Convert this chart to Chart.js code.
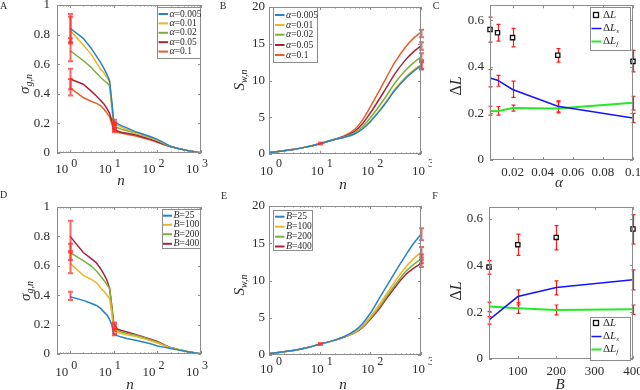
<!DOCTYPE html>
<html>
<head>
<meta charset="utf-8">
<script src="https://cdn.jsdelivr.net/npm/chart.js@4.4.1/dist/chart.umd.min.js"></script>
<style>
  html, body { margin: 0; padding: 0; background: #fff; }
  #fig { position: relative; width: 640px; height: 390px; overflow: hidden; }
  #fig canvas { position: absolute; }
</style>
</head>
<body>
<div id="fig"></div>
<script>
// ---- data ----
const nSigma = [1, 2, 3, 4, 5, 6, 7, 8, 9, 10, 12, 15, 20, 30, 50, 70, 100, 150, 200, 300, 500, 700, 1000];
const nSw = [1, 2, 3, 5, 10, 20, 30, 50, 70, 100, 150, 200, 300, 500, 700, 1000];
const logTickExps = [0, 1, 2, 3];

// panel A: sigma_{g,n}, one line per alpha
const alphaLabels = ["0.005", "0.01", "0.02", "0.05", "0.1"];
const sigmaA005 = [0.843, 0.775, 0.71, 0.655, 0.61, 0.57, 0.53, 0.49, 0.35, 0.21, 0.2, 0.185, 0.17, 0.146, 0.125, 0.11, 0.092, 0.065, 0.045, 0.03, 0.016, 0.008, 0];
const sigmaA01 = [0.83, 0.73, 0.67, 0.61, 0.565, 0.54, 0.51, 0.48, 0.34, 0.2, 0.19, 0.175, 0.16, 0.139, 0.12, 0.105, 0.088, 0.062, 0.045, 0.03, 0.016, 0.008, 0];
const sigmaA02 = [0.69, 0.625, 0.58, 0.54, 0.51, 0.49, 0.475, 0.455, 0.32, 0.18, 0.172, 0.16, 0.15, 0.135, 0.117, 0.103, 0.087, 0.06, 0.044, 0.03, 0.016, 0.008, 0];
const sigmaA05 = [0.5, 0.465, 0.42, 0.385, 0.355, 0.33, 0.3, 0.27, 0.22, 0.16, 0.148, 0.14, 0.133, 0.124, 0.105, 0.092, 0.075, 0.055, 0.043, 0.03, 0.016, 0.008, 0];
const sigmaA1 = [0.44, 0.375, 0.35, 0.335, 0.32, 0.295, 0.27, 0.245, 0.2, 0.15, 0.14, 0.133, 0.126, 0.117, 0.1, 0.088, 0.072, 0.053, 0.042, 0.03, 0.016, 0.008, 0];
const errAx = [1, 1, 1, 1, 1, 10, 10, 10, 10, 10];
const errAlo = [0.75, 0.74, 0.62, 0.43, 0.388, 0.195, 0.19, 0.17, 0.15, 0.14];
const errAhi = [0.94, 0.92, 0.775, 0.57, 0.5, 0.225, 0.21, 0.19, 0.17, 0.16];

// panel B: S_{w,n}, one line per alpha
const swA005 = [0.2, 0.45, 0.6, 0.9, 1.4, 2.0, 2.25, 2.75, 3.4, 4.4, 5.8, 6.9, 8.6, 10.3, 11.2, 12.0];
const swA01 = [0.2, 0.45, 0.6, 0.9, 1.4, 2.0, 2.26, 2.78, 3.45, 4.48, 5.91, 7.03, 8.75, 10.47, 11.38, 12.18];
const swA02 = [0.2, 0.45, 0.6, 0.9, 1.4, 2.0, 2.3, 2.92, 3.71, 4.92, 6.53, 7.76, 9.59, 11.42, 12.37, 13.2];
const swA05 = [0.2, 0.45, 0.6, 0.9, 1.4, 2.0, 2.36, 3.13, 4.11, 5.58, 7.45, 8.85, 10.84, 12.84, 13.86, 14.7];
const swA1 = [0.2, 0.45, 0.6, 0.9, 1.4, 2.0, 2.45, 3.4, 4.6, 6.4, 8.6, 10.2, 12.4, 14.6, 15.7, 16.6];
const errBx = [10, 1000, 1000, 1000, 1000, 1000];
const errBlo = [1.3, 11.5, 11.6, 12.8, 14.2, 15.9];
const errBhi = [1.55, 12.5, 12.6, 13.7, 15.2, 16.9];

// panel C: Delta L against alpha
const alphaVals = [0.005, 0.01, 0.02, 0.05, 0.1];
const dL = [0.561, 0.547, 0.526, 0.45, 0.424];
const dLlo = [0.507, 0.511, 0.486, 0.421, 0.379];
const dLhi = [0.614, 0.583, 0.566, 0.479, 0.471];
const dLs = [0.353, 0.343, 0.303, 0.231, 0.181];
const dLslo = [0.314, 0.317, 0.269, 0.203, 0.161];
const dLshi = [0.389, 0.364, 0.339, 0.254, 0.2];
const dLf = [0.211, 0.21, 0.223, 0.221, 0.246];
const dLflo = [0.193, 0.193, 0.21, 0.207, 0.214];
const dLfhi = [0.231, 0.23, 0.236, 0.25, 0.274];

// panel D: sigma_{g,n}, one line per batch size B
const batchLabels = ["25", "100", "200", "400"];
const sigmaB25 = [0.39, 0.365, 0.345, 0.33, 0.31, 0.285, 0.265, 0.235, 0.2, 0.135, 0.125, 0.115, 0.105, 0.095, 0.08, 0.07, 0.055, 0.045, 0.038, 0.028, 0.016, 0.008, 0];
const sigmaB100 = [0.617, 0.535, 0.51, 0.485, 0.45, 0.425, 0.4, 0.38, 0.28, 0.165, 0.15, 0.14, 0.13, 0.12, 0.103, 0.09, 0.075, 0.055, 0.042, 0.03, 0.016, 0.008, 0];
const sigmaB200 = [0.69, 0.635, 0.6, 0.565, 0.53, 0.5, 0.47, 0.45, 0.32, 0.18, 0.16, 0.15, 0.14, 0.13, 0.11, 0.095, 0.08, 0.058, 0.043, 0.03, 0.016, 0.008, 0];
const sigmaB400 = [0.8, 0.69, 0.65, 0.62, 0.58, 0.54, 0.5, 0.45, 0.33, 0.21, 0.17, 0.16, 0.15, 0.135, 0.115, 0.1, 0.085, 0.06, 0.045, 0.03, 0.016, 0.008, 0];
const errDx = [1, 1, 1, 1, 10, 10, 10, 10];
const errDlo = [0.367, 0.549, 0.64, 0.7, 0.128, 0.155, 0.17, 0.2];
const errDhi = [0.424, 0.69, 0.75, 0.907, 0.14, 0.17, 0.185, 0.215];

// panel E: S_{w,n}, one line per batch size B
const swB25 = [0.2, 0.45, 0.6, 0.9, 1.45, 2.0, 2.45, 3.3, 4.2, 5.6, 7.6, 9.0, 11.0, 13.4, 14.9, 16.2];
const swB100 = [0.2, 0.45, 0.6, 0.9, 1.45, 2.0, 2.42, 3.12, 3.89, 5.11, 6.74, 8.02, 9.77, 11.8, 12.87, 13.8];
const swB200 = [0.2, 0.45, 0.6, 0.9, 1.45, 2.0, 2.4, 3.05, 3.78, 4.92, 6.42, 7.65, 9.31, 11.2, 12.11, 12.9];
const swB400 = [0.2, 0.45, 0.6, 0.9, 1.45, 2.0, 2.38, 3.0, 3.7, 4.8, 6.2, 7.4, 9.0, 10.8, 11.6, 12.3];
const errEx = [10, 1000, 1000, 1000, 1000];
const errElo = [1.35, 15.4, 13.1, 12.3, 11.8];
const errEhi = [1.6, 17.0, 14.5, 13.5, 12.8];

// panel F: Delta L against B
const batchVals = [25, 100, 200, 400];
const dLB = [0.393, 0.489, 0.52, 0.556];
const dLBlo = [0.363, 0.443, 0.467, 0.491];
const dLBhi = [0.421, 0.534, 0.57, 0.617];
const dLsB = [0.167, 0.267, 0.306, 0.339];
const dLsBlo = [0.149, 0.231, 0.274, 0.296];
const dLsBhi = [0.181, 0.296, 0.334, 0.381];
const dLfB = [0.224, 0.217, 0.21, 0.213];
const dLfBlo = [0.203, 0.195, 0.189, 0.191];
const dLfBhi = [0.243, 0.24, 0.231, 0.231];

// ---- styling ----
const FONT = '"Liberation Serif", "Times New Roman", serif';
const TEXT = "#2b2b2b";
const FRAME = "#8c8c8c";
const mBlue = "#2383cb", mYellow = "#eeb425", mGreen = "#7cb03a", mDred = "#a5243e", mOrange = "#e0622a";
const alphaColors = [mBlue, mYellow, mGreen, mDred, mOrange];
const batchColors = [mBlue, mYellow, mGreen, mDred];
const softRed = { color: "rgba(255, 40, 40, 0.72)", width: 2, cap: 2.5 };
const hardRed = { color: "#ff1a1a", width: 1.2, cap: 2 };

function fmt(v) {
  return String(Math.round(v * 1000) / 1000);
}

function lineSet(xs, ys, color, width, smooth) {
  return {
    data: xs.map((x, i) => ({ x, y: ys[i] })),
    borderColor: color,
    backgroundColor: color,
    borderWidth: width,
    pointRadius: 0,
    tension: 0,
    cubicInterpolationMode: smooth ? "monotone" : "default",
    fill: false
  };
}

function squareSet(xs, ys) {
  return {
    data: xs.map((x, i) => ({ x, y: ys[i] })),
    showLine: false,
    clip: false,
    pointStyle: "rect",
    pointRadius: 3,
    borderColor: "#111",
    backgroundColor: "#fff",
    borderWidth: 1.3
  };
}

function bars(xs, lo, hi) {
  return { xs, lo, hi };
}

// rich text: parts = [text, size, italic, dy]
function richWidth(ctx, parts) {
  let w = 0;
  parts.forEach(([t, size, italic]) => {
    ctx.font = (italic ? "italic " : "") + size + "px " + FONT;
    w += ctx.measureText(t).width;
  });
  return w;
}

function drawRich(ctx, parts, x, y, opts = {}) {
  ctx.save();
  ctx.translate(x, y);
  if (opts.rotate) ctx.rotate(-Math.PI / 2);
  ctx.fillStyle = TEXT;
  ctx.textBaseline = "middle";
  ctx.textAlign = "left";
  const w = richWidth(ctx, parts);
  let cx = opts.align === "left" ? 0 : -w / 2;
  parts.forEach(([t, size, italic, dy]) => {
    ctx.font = (italic ? "italic " : "") + size + "px " + FONT;
    ctx.fillText(t, cx, dy || 0);
    cx += ctx.measureText(t).width;
  });
  ctx.restore();
}

function drawBars(ctx, chart, b, style) {
  const xs = chart.scales.x, ys = chart.scales.y;
  ctx.save();
  ctx.strokeStyle = style.color;
  ctx.lineWidth = style.width;
  b.xs.forEach((xv, i) => {
    const px = Math.round(xs.getPixelForValue(xv)) + 0.5;
    const y0 = ys.getPixelForValue(b.lo[i]);
    const y1 = ys.getPixelForValue(b.hi[i]);
    ctx.beginPath();
    ctx.moveTo(px, y0); ctx.lineTo(px, y1);
    ctx.moveTo(px - style.cap, y0); ctx.lineTo(px + style.cap, y0);
    ctx.moveTo(px - style.cap, y1); ctx.lineTo(px + style.cap, y1);
    ctx.stroke();
  });
  ctx.restore();
}

function drawFrame(ctx, chart, p) {
  const a = chart.chartArea;
  const xs = chart.scales.x, ys = chart.scales.y;
  ctx.save();
  ctx.strokeStyle = FRAME;
  ctx.lineWidth = 1;
  ctx.strokeRect(Math.round(a.left) + 0.5, Math.round(a.top) + 0.5, Math.round(a.right - a.left) - 1, Math.round(a.bottom - a.top) - 1);
  ctx.beginPath();
  const xTick = (v, len) => {
    const px = Math.round(xs.getPixelForValue(v)) + 0.5;
    ctx.moveTo(px, a.bottom); ctx.lineTo(px, a.bottom - len);
    ctx.moveTo(px, a.top); ctx.lineTo(px, a.top + len);
  };
  if (p.xType === "logarithmic") {
    logTickExps.forEach((k) => {
      xTick(Math.pow(10, k), 3);
      if (k < 3) for (let m = 2; m < 10; m++) xTick(m * Math.pow(10, k), 1.5);
    });
    if (p.xMin < 1) for (let m = 5; m < 10; m++) xTick(m * 0.1, 1.5);
  } else {
    xs.ticks.forEach((t) => xTick(t.value, 3));
  }
  ys.ticks.forEach((t) => {
    const py = Math.round(ys.getPixelForValue(t.value)) + 0.5;
    ctx.moveTo(a.left, py); ctx.lineTo(a.left + 3, py);
    ctx.moveTo(a.right, py); ctx.lineTo(a.right - 3, py);
  });
  ctx.stroke();
  ctx.restore();
}

function drawLogLabels(ctx, chart, p) {
  const xs = chart.scales.x;
  ctx.save();
  ctx.fillStyle = TEXT;
  ctx.textBaseline = "middle";
  logTickExps.forEach((k) => {
    const px = xs.getPixelForValue(Math.pow(10, k));
    ctx.font = "13px " + FONT;
    ctx.textAlign = "right";
    ctx.fillText("10", px + p.logLab.dx, p.logLab.y - p.T);
    ctx.font = "12px " + FONT;
    ctx.textAlign = "left";
    ctx.fillText(String(k), px + p.logLab.dx + 3, p.logLab.ey - p.T);
  });
  ctx.restore();
}

function drawLegend(ctx, p) {
  const lg = p.legend;
  const X = (v) => v - p.L, Y = (v) => v - p.T;
  ctx.save();
  ctx.fillStyle = "#fff";
  ctx.strokeStyle = FRAME;
  ctx.lineWidth = 1;
  const [x0, y0, x1, y1] = lg.box;
  ctx.fillRect(X(x0) + 0.5, Y(y0) + 0.5, x1 - x0, y1 - y0);
  ctx.strokeRect(X(x0) + 0.5, Y(y0) + 0.5, x1 - x0, y1 - y0);
  lg.items.forEach((it, i) => {
    const ry = Y(lg.rows[i]);
    if (it.marker) {
      ctx.strokeStyle = "#111";
      ctx.lineWidth = 1.3;
      ctx.strokeRect(X(lg.markerX) - 2.5, ry - 2.5, 5, 5);
    } else {
      ctx.strokeStyle = it.color;
      ctx.lineWidth = it.width || 2;
      ctx.beginPath();
      ctx.moveTo(X(lg.line[0]), ry);
      ctx.lineTo(X(lg.line[1]), ry);
      ctx.stroke();
    }
    drawRich(ctx, it.parts, X(lg.textX), ry, { align: "left" });
  });
  ctx.restore();
}

function makeDecor(p) {
  return {
    id: "decor" + p.id,
    beforeDatasetsDraw(chart) {
      if (p.barsUnder) p.bars.forEach((b) => drawBars(chart.ctx, chart, b, p.barStyle));
    },
    afterDatasetsDraw(chart) {
      if (!p.barsUnder) p.bars.forEach((b) => drawBars(chart.ctx, chart, b, p.barStyle));
    },
    afterDraw(chart) {
      const ctx = chart.ctx;
      const X = (v) => v - p.L, Y = (v) => v - p.T;
      drawFrame(ctx, chart, p);
      if (p.xType === "logarithmic") drawLogLabels(ctx, chart, p);
      drawLegend(ctx, p);
      drawRich(ctx, p.xTitle.parts, X(p.xTitle.at[0]), Y(p.xTitle.at[1]));
      drawRich(ctx, p.yTitle.parts, X(p.yTitle.at[0]), Y(p.yTitle.at[1]), { rotate: true });
      drawRich(ctx, [[p.id, 10, false]], X(p.letterAt[0]), Y(p.letterAt[1]));
    }
  };
}

function makeChart(p) {
  const canvas = document.createElement("canvas");
  canvas.width = p.W;
  canvas.height = p.H;
  canvas.style.left = p.L + "px";
  canvas.style.top = p.T + "px";
  canvas.style.width = p.W + "px";
  canvas.style.height = p.H + "px";
  document.getElementById("fig").append(canvas);

  const yW = p.box[0] - p.L;
  const xH = p.T + p.H - p.box[3];
  const tickFont = { family: FONT, size: 13 };
  const linearX = p.xType === "linear";

  return new Chart(canvas, {
    type: "line",
    data: { datasets: p.datasets },
    options: {
      responsive: false,
      animation: false,
      devicePixelRatio: 1,
      layout: { padding: { left: 0, top: p.box[1] - p.T, right: p.L + p.W - p.box[2], bottom: 0 } },
      plugins: { legend: { display: false }, tooltip: { enabled: false } },
      scales: {
        x: {
          type: p.xType,
          min: p.xMin,
          max: p.xMax,
          grid: { display: false, drawTicks: false },
          border: { display: false },
          ticks: linearX
            ? { stepSize: p.xStep, includeBounds: false, padding: 5, font: tickFont, color: TEXT, maxRotation: 0, autoSkip: false, callback: (v) => fmt(v) }
            : { display: false },
          afterFit: (s) => { s.height = xH; s.paddingLeft = 0; s.paddingRight = 0; }
        },
        y: {
          type: "linear",
          min: p.yMin,
          max: p.yMax,
          grid: { display: false, drawTicks: false },
          border: { display: false },
          ticks: { stepSize: p.yStep, includeBounds: false, padding: p.yPad, font: tickFont, color: TEXT, callback: (v) => fmt(v) },
          afterFit: (s) => { s.width = yW; s.paddingTop = 0; s.paddingBottom = 0; }
        }
      }
    },
    plugins: [makeDecor(p)]
  });
}

const sigmaTitle = [["σ", 15, true], ["g,n", 10, true, 4]];
const swTitle = [["S", 15, true], ["w,n", 10, true, 4]];
const dLTitle = [["Δ", 16, false], ["L", 16, true]];
const nTitle = [["n", 15, true]];
const dLItems = [
  { marker: true, parts: [["Δ", 11, false], ["L", 11, true]] },
  { color: "#1414ff", width: 1.5, parts: [["Δ", 11, false], ["L", 11, true], ["s", 7, true, 3]] },
  { color: "#26e826", width: 2, parts: [["Δ", 11, false], ["L", 11, true], ["f", 7, true, 3]] }
];

const panels = [
  {
    id: "A", L: 0, T: 0, W: 216, H: 192, box: [57, 5, 201, 153],
    xType: "logarithmic", xMin: 0.5, xMax: 1000, yMin: 0, yMax: 1, yStep: 0.2, yPad: 7,
    logLab: { dx: -2, y: 170, ey: 164 },
    datasets: [sigmaA005, sigmaA01, sigmaA02, sigmaA05, sigmaA1].map((ys, i) => lineSet(nSigma, ys, alphaColors[i], 1.5, false)),
    bars: [bars(errAx, errAlo, errAhi)], barStyle: softRed,
    legend: {
      box: [157, 7, 200, 58], rows: [14, 23.4, 32.8, 42.2, 51.6], line: [158.5, 168], textX: 169.5,
      items: alphaLabels.map((t, i) => ({ color: alphaColors[i], parts: [["α", 10, true], ["=" + t, 9.5, false]] }))
    },
    xTitle: { parts: nTitle, at: [121, 181] }, yTitle: { parts: sigmaTitle, at: [25, 84] }, letterAt: [3.5, 6.3]
  },
  {
    id: "B", L: 212, T: 0, W: 220, H: 192, box: [269, 7, 421, 154],
    xType: "logarithmic", xMin: 1, xMax: 1000, yMin: 0, yMax: 20, yStep: 5, yPad: 4,
    logLab: { dx: 4, y: 172, ey: 164 },
    datasets: [swA005, swA01, swA02, swA05, swA1].map((ys, i) => lineSet(nSw, ys, alphaColors[i], 1.5, true)),
    bars: [bars(errBx, errBlo, errBhi)], barStyle: softRed,
    legend: {
      box: [273, 7, 317, 62], rows: [15, 25, 34.7, 45, 55], line: [275, 284.5], textX: 286,
      items: alphaLabels.map((t, i) => ({ color: alphaColors[i], parts: [["α", 10, true], ["=" + t, 9.5, false]] }))
    },
    xTitle: { parts: nTitle, at: [343, 185] }, yTitle: { parts: swTitle, at: [240, 80] }, letterAt: [223, 6.3]
  },
  {
    id: "C", L: 425, T: 0, W: 215, H: 192, box: [490, 5, 633, 160],
    xType: "linear", xMin: 0.005, xMax: 0.1, xStep: 0.02, yMin: 0, yMax: 0.665, yStep: 0.2, yPad: 6,
    datasets: [lineSet(alphaVals, dLs, "#1414ff", 1.5, false), lineSet(alphaVals, dLf, "#26e826", 2, false), squareSet(alphaVals, dL)],
    bars: [bars(alphaVals, dLlo, dLhi), bars(alphaVals, dLslo, dLshi), bars(alphaVals, dLflo, dLfhi)],
    barStyle: hardRed, barsUnder: true,
    legend: { box: [590, 7, 630, 50], rows: [15, 28.5, 41.5], line: [591.5, 601.5], markerX: 596, textX: 603, items: dLItems },
    xTitle: { parts: [["α", 15, true]], at: [559, 183] }, yTitle: { parts: dLTitle, at: [457, 86] }, letterAt: [436, 6.3]
  },
  {
    id: "D", L: 0, T: 188, W: 216, H: 202, box: [57, 207, 201, 354],
    xType: "logarithmic", xMin: 0.5, xMax: 1000, yMin: 0, yMax: 1, yStep: 0.2, yPad: 7,
    logLab: { dx: -2, y: 373, ey: 366 },
    datasets: [sigmaB25, sigmaB100, sigmaB200, sigmaB400].map((ys, i) => lineSet(nSigma, ys, batchColors[i], 1.5, false)),
    bars: [bars(errDx, errDlo, errDhi)], barStyle: softRed,
    legend: {
      box: [162, 209, 200, 248], rows: [215.7, 224.8, 234.2, 243.8], line: [163, 172], textX: 173.5,
      items: batchLabels.map((t, i) => ({ color: batchColors[i], parts: [["B", 10, true], ["=" + t, 9.5, false]] }))
    },
    xTitle: { parts: nTitle, at: [130, 385] }, yTitle: { parts: sigmaTitle, at: [26, 291] }, letterAt: [3.5, 195.5]
  },
  {
    id: "E", L: 212, T: 188, W: 220, H: 202, box: [269, 206, 421, 355],
    xType: "logarithmic", xMin: 1, xMax: 1000, yMin: 0, yMax: 20, yStep: 5, yPad: 4,
    logLab: { dx: 4, y: 370, ey: 362 },
    datasets: [swB25, swB100, swB200, swB400].map((ys, i) => lineSet(nSw, ys, batchColors[i], 1.5, true)),
    bars: [bars(errEx, errElo, errEhi)], barStyle: softRed,
    legend: {
      box: [273, 210, 312, 250], rows: [216.7, 226.7, 236.7, 246.5], line: [275, 284.5], textX: 286,
      items: batchLabels.map((t, i) => ({ color: batchColors[i], parts: [["B", 10, true], ["=" + t, 9.5, false]] }))
    },
    xTitle: { parts: nTitle, at: [343, 385] }, yTitle: { parts: swTitle, at: [240, 285] }, letterAt: [224, 196]
  },
  {
    id: "F", L: 425, T: 188, W: 215, H: 202, box: [489, 207, 633, 359],
    xType: "linear", xMin: 25, xMax: 400, xStep: 100, yMin: 0, yMax: 0.65, yStep: 0.2, yPad: 6,
    datasets: [lineSet(batchVals, dLsB, "#1414ff", 1.5, false), lineSet(batchVals, dLfB, "#26e826", 2, false), squareSet(batchVals, dLB)],
    bars: [bars(batchVals, dLBlo, dLBhi), bars(batchVals, dLsBlo, dLsBhi), bars(batchVals, dLfBlo, dLfBhi)],
    barStyle: hardRed, barsUnder: true,
    legend: { box: [590, 317, 630, 360], rows: [323, 336.5, 349.5], line: [591.5, 601.5], markerX: 596, textX: 603, items: dLItems },
    xTitle: { parts: [["B", 15, true]], at: [560, 385] }, yTitle: { parts: dLTitle, at: [457, 291] }, letterAt: [435, 196]
  }
];

panels.forEach(makeChart);
</script>
</body>
</html>
